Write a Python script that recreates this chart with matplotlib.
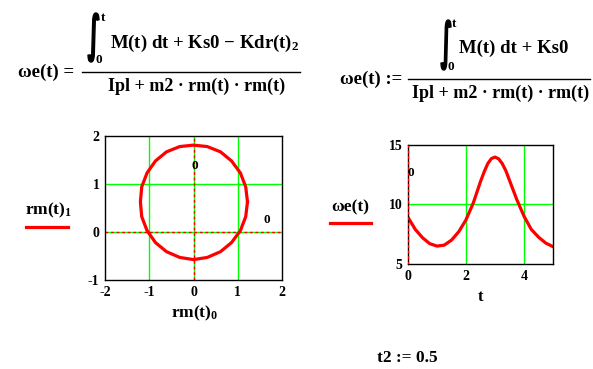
import matplotlib.pyplot as plt
import matplotlib.transforms as mtransforms
from matplotlib.lines import Line2D
from matplotlib.patches import PathPatch
from matplotlib.textpath import TextPath
from matplotlib.font_manager import FontProperties

# data
rm0 = [1.22, 1.18, 1.06, 0.86, 0.61, 0.31, 0.0, -0.31, -0.61, -0.86, -1.05, -1.17,
       -1.20, -1.17, -1.05, -0.86, -0.61, -0.31, 0.0, 0.31, 0.61, 0.86, 1.06, 1.18, 1.22]
rm1 = [0.63, 0.94, 1.23, 1.48, 1.67, 1.78, 1.81, 1.78, 1.67, 1.48, 1.23, 0.94,
       0.63, 0.32, 0.03, -0.22, -0.41, -0.53, -0.575, -0.53, -0.41, -0.22, 0.03, 0.32, 0.63]

t = [0, 0.25, 0.5, 0.75, 1.0, 1.25, 1.5, 1.75, 2.0, 2.25, 2.375, 2.5, 2.625, 2.75,
     2.875, 3.0, 3.125, 3.25, 3.375, 3.5, 3.625, 3.75, 4.0, 4.25, 4.5, 4.75, 5.0]
we = [8.9, 7.9, 7.2, 6.7, 6.5, 6.58, 7.0, 7.7, 8.7, 10.1, 11.0, 11.9, 12.7, 13.4,
      13.82, 13.95, 13.8, 13.4, 12.8, 12.0, 11.2, 10.4, 9.0, 7.9, 7.25, 6.75, 6.45]

left_xticks = [-2, -1, 0, 1, 2]
left_yticks = [-1, 0, 1, 2]
right_xticks = [0, 2, 4]
right_yticks = [5, 10, 15]

W, H = 593, 369
RED = '#ff0000'
GREEN = '#00ff00'

plt.rcParams['font.family'] = ['Liberation Serif', 'DejaVu Serif']
plt.rcParams['font.weight'] = 'bold'
plt.rcParams['axes.unicode_minus'] = False
plt.rcParams['mathtext.fontset'] = 'custom'
plt.rcParams['mathtext.rm'] = 'Liberation Serif:bold'
plt.rcParams['mathtext.it'] = 'Liberation Serif:bold'
plt.rcParams['mathtext.bf'] = 'Liberation Serif:bold'

fig = plt.figure(figsize=(W / 100, H / 100), dpi=100)


def box(l, t_, r, b):
    return fig.add_axes([l / W, 1 - b / H, (r - l) / W, (b - t_) / H])


def txt(x, y, s, size=11, ha='left', va='center', **kw):
    fig.text(x / W, 1 - y / H, s, fontsize=size, ha=ha, va=va, fontweight='bold', **kw)


def hline(x0, x1, y, color='black', lw=1.0):
    fig.add_artist(Line2D([x0 / W, x1 / W], [1 - y / H, 1 - y / H], color=color, lw=lw,
                          transform=fig.transFigure))


def integral(x0, x1, y0, y1):
    # tall narrow integral sign stretched into a pixel box
    tp = TextPath((0, 0), '∫', size=1, prop=FontProperties(family='DejaVu Sans', weight='bold'))
    ext = tp.get_extents()
    sx = (x1 - x0) / ext.width
    sy = (y1 - y0) / ext.height
    tr = (mtransforms.Affine2D().translate(-ext.x0, -ext.y0).scale(sx / 100, sy / 100)
          .translate(x0 / 100, (H - y1) / 100) + fig.dpi_scale_trans)
    fig.add_artist(PathPatch(tp, transform=tr, facecolor='black', edgecolor='black', lw=1.0))


def style(ax):
    for sp in ax.spines.values():
        sp.set_color('black')
        sp.set_linewidth(1.0)
    ax.tick_params(length=0, labelsize=10, pad=4)
    for lab in ax.get_xticklabels() + ax.get_yticklabels():
        lab.set_fontweight('bold')


# formulas
txt(18, 72, 'ωe(t) =', 13.5)
hline(82, 300, 72)
integral(88, 99, 13, 62)
txt(103, 18, 't', 9.5, ha='center')
txt(99, 60, '0', 9.5, ha='center')
txt(110, 43, r'M(t) dt + Ks0 $-$ Kdr(t)$_2$', 13.5)
txt(108, 86, 'Ipl + m2 · rm(t) · rm(t)', 13)

txt(340, 79, 'ωe(t) :=', 13.5)
hline(408, 590, 79)
integral(441, 451, 20, 70)
txt(454, 24, 't', 9.5, ha='center')
txt(451, 67, '0', 9.5, ha='center')
txt(459, 48, 'M(t) dt + Ks0', 13.5)
txt(412, 93, 'Ipl + m2 · rm(t) · rm(t)', 13)

# left plot
ax1 = box(105, 136, 282, 280)
for v in [-1, 1]:
    ax1.axvline(v, color=GREEN, lw=1)
ax1.axhline(1, color=GREEN, lw=1)
ax1.axvline(0, color=GREEN, lw=1)
ax1.axhline(0, color=GREEN, lw=1)
ax1.axvline(0, color=RED, lw=1, ls=(0, (2, 2)))
ax1.axhline(0, color=RED, lw=1, ls=(0, (2, 2)))
ax1.plot(rm0, rm1, color=RED, lw=2.3)
ax1.set_xlim(-2, 2)
ax1.set_ylim(-1, 2)
ax1.set_xticks(left_xticks)
ax1.set_yticks(left_yticks)
style(ax1)
ax1.text(0.04, 1.37, '0', fontsize=9.5, fontweight='bold', ha='center', va='center')
ax1.text(1.65, 0.26, '0', fontsize=9.5, fontweight='bold', ha='center', va='center')
txt(195, 313, r'rm(t)$_0$', 12.5, ha='center')
txt(49, 210, r'rm(t)$_1$', 12.5, ha='center')
hline(26, 68, 227, color=RED, lw=2.3)

# right plot
ax2 = box(408, 144.5, 553, 264)
ax2.axvline(2, color=GREEN, lw=1)
ax2.axvline(4, color=GREEN, lw=1)
ax2.axhline(10, color=GREEN, lw=1)
ax2.plot(t, we, color=RED, lw=2.3)
ax2.axvline(0, color=RED, lw=1, ls=(0, (2, 2)), zorder=5)
ax2.set_xlim(0, 5)
ax2.set_ylim(5, 15)
ax2.set_xticks(right_xticks)
ax2.set_yticks(right_yticks)
style(ax2)
ax2.text(0.08, 12.6, '0', fontsize=9.5, fontweight='bold', ha='center', va='center')
txt(481, 297, 't', 12, ha='center')
txt(350, 207, 'ωe(t)', 12.5, ha='center')
hline(330, 371, 223, color=RED, lw=2.3)

txt(407, 358, 't2 := 0.5', 12.5, ha='center')

fig.savefig('out.png', dpi=100)
